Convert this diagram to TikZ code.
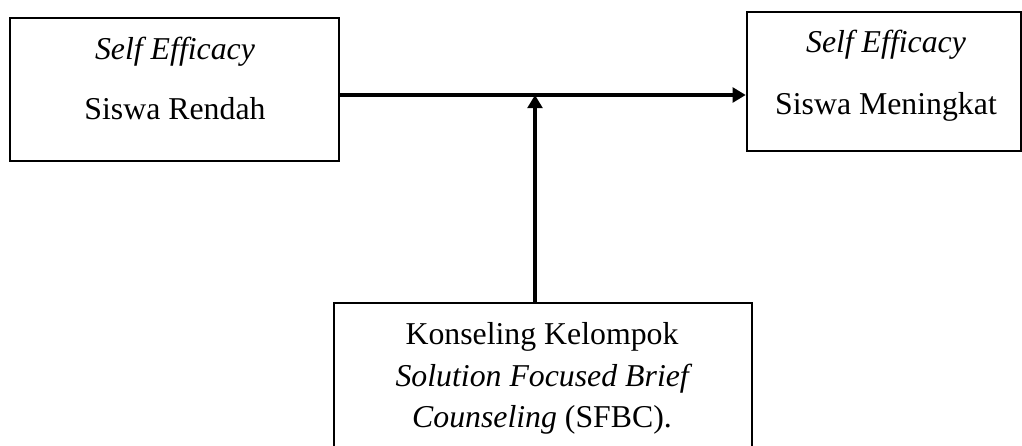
\documentclass[tikz,border=0pt]{standalone}
\usepackage{fontspec}
\setmainfont{Liberation Serif}
\usepackage{tikz}
\usetikzlibrary{arrows.meta}

\begin{document}
\begin{tikzpicture}[x=0.3774pt,y=0.3774pt,yscale=1,xscale=1,
  box/.style={draw,line width=0.95pt,inner sep=0pt},
  arr/.style={line width=1.3pt,-{Triangle[length=5pt,width=5.6pt]}},
  lbl/.style={anchor=base,inner sep=0.75pt,font=\fontsize{12}{15.7}\selectfont}]
\clip (0,0) rectangle (1022,446);
\node (rendah) [box,minimum width=124.2pt,minimum height=54pt] at (174.5,356.5) {};
\node (meningkat) [box,minimum width=103.4pt,minimum height=52.5pt] at (884,364.5) {};
\node (sfbc) [box,minimum width=157.8pt,minimum height=59.3pt] at (543,64.5) {};
\coordinate (junc) at (535,351);
\draw [arr] (rendah.east |- junc) -- (meningkat.west |- junc);
\draw [arr] (sfbc.north -| junc) -- (junc);
%Text
\node (rendah1) [lbl] at (175,386) {\textit{Self Efficacy}};
\node (rendah2) [lbl] at (175,326) {Siswa Rendah};
\node (naik1) [lbl] at (886,393) {\textit{Self Efficacy}};
\node (naik2) [lbl] at (886,331) {Siswa Meningkat};
\node (sfbc1) [lbl] at (542,101) {Konseling Kelompok};
\node (sfbc2) [lbl] at (544,59) {\textit{Solution Focused Brief}};
\node (sfbc3) [lbl] at (542,18) {\textit{Counseling} (SFBC).};
\end{tikzpicture}
\end{document}
